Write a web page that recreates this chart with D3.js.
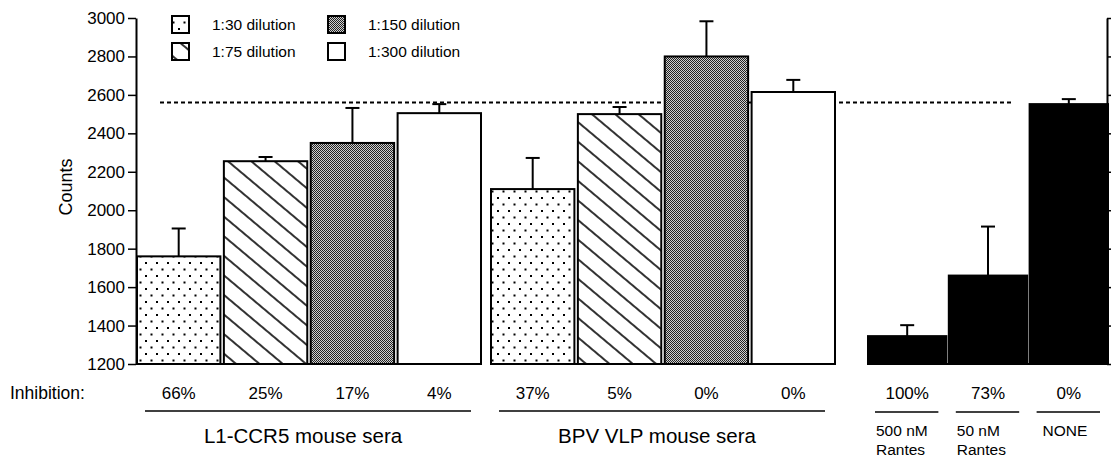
<!DOCTYPE html>
<html>
<head>
<meta charset="utf-8">
<script src="https://cdn.jsdelivr.net/npm/d3@7"></script>
<style>
  body { margin: 0; background: #fff; }
  text { font-family: "Liberation Sans", Arial, sans-serif; fill: #000; }
</style>
</head>
<body>
<script>
var dilutions = ["1:30 dilution", "1:75 dilution", "1:150 dilution", "1:300 dilution"];
var groupNames = ["L1-CCR5 mouse sera", "BPV VLP mouse sera"];

var l1Counts = [1760, 2255, 2350, 2505];
var l1Err = [145, 22, 182, 47];
var l1Inhib = ["66%", "25%", "17%", "4%"];

var bpvCounts = [2110, 2500, 2800, 2615];
var bpvErr = [162, 37, 183, 63];
var bpvInhib = ["37%", "5%", "0%", "0%"];

var rantesNames = [["500 nM", "Rantes"], ["50 nM", "Rantes"], ["NONE"]];
var rantesCounts = [1345, 1660, 2552];
var rantesErr = [57, 255, 26];
var rantesInhib = ["100%", "73%", "0%"];

var baseline = 2560;
var yTicks = [1200, 1400, 1600, 1800, 2000, 2200, 2400, 2600, 2800, 3000];

var width = 1111, height = 457;

var svg = d3.select("body").append("svg")
    .attr("width", width)
    .attr("height", height);

// fill patterns
var defs = svg.append("defs");

var dots = defs.append("pattern").attr("id", "dots")
    .attr("patternUnits", "userSpaceOnUse")
    .attr("width", 11).attr("height", 13);
dots.append("rect").attr("width", 11).attr("height", 13).attr("fill", "#fff");
dots.append("rect").attr("x", 2).attr("y", 2).attr("width", 2).attr("height", 2).attr("fill", "#000");
dots.append("rect").attr("x", 7.5).attr("y", 8.5).attr("width", 2).attr("height", 2).attr("fill", "#000");

var hatch = defs.append("pattern").attr("id", "hatch")
    .attr("patternUnits", "userSpaceOnUse")
    .attr("width", 15).attr("height", 15)
    .attr("patternTransform", "rotate(40)");
hatch.append("rect").attr("width", 15).attr("height", 15).attr("fill", "#fff");
hatch.append("line").attr("x1", 0).attr("x2", 15).attr("y1", 7).attr("y2", 7)
    .attr("stroke", "#000").attr("stroke-width", 1.6);

var grey = defs.append("pattern").attr("id", "grey")
    .attr("patternUnits", "userSpaceOnUse")
    .attr("width", 2).attr("height", 2);
grey.append("rect").attr("width", 2).attr("height", 2).attr("fill", "#cfcfcf");
grey.append("rect").attr("width", 1).attr("height", 1).attr("fill", "#222");
grey.append("rect").attr("x", 1).attr("y", 1).attr("width", 1).attr("height", 1).attr("fill", "#222");

var fills = ["url(#dots)", "url(#hatch)", "url(#grey)", "#fff"];

var y = d3.scaleLinear().domain([1200, 3000]).range([364, 18]);

var x1 = d3.scaleBand().domain(d3.range(4)).range([137, 481]).paddingInner(0.04);
var x2 = d3.scaleBand().domain(d3.range(4)).range([491, 835]).paddingInner(0.04);
var x3 = d3.scaleBand().domain(d3.range(3)).range([868, 1108]).paddingInner(0.03);

// dashed control level
svg.append("line")
    .attr("x1", 160).attr("x2", 1012)
    .attr("y1", y(baseline)).attr("y2", y(baseline))
    .attr("stroke", "#000").attr("stroke-width", 2)
    .attr("stroke-dasharray", "4,3");

function drawGroup(xs, counts, errs, fillFor, inhib) {
    var g = svg.append("g");
    var data = counts.map(function(d, i) { return {i: i, v: d, e: errs[i]}; });

    g.selectAll(".err").data(data).enter().append("line")
        .attr("x1", function(d) { return xs(d.i) + xs.bandwidth() / 2; })
        .attr("x2", function(d) { return xs(d.i) + xs.bandwidth() / 2; })
        .attr("y1", function(d) { return y(d.v); })
        .attr("y2", function(d) { return y(d.v + d.e); })
        .attr("stroke", "#000").attr("stroke-width", 2);
    g.selectAll(".cap").data(data).enter().append("line")
        .attr("x1", function(d) { return xs(d.i) + xs.bandwidth() / 2 - 7; })
        .attr("x2", function(d) { return xs(d.i) + xs.bandwidth() / 2 + 7; })
        .attr("y1", function(d) { return y(d.v + d.e); })
        .attr("y2", function(d) { return y(d.v + d.e); })
        .attr("stroke", "#000").attr("stroke-width", 2);

    g.selectAll("rect").data(data).enter().append("rect")
        .attr("x", function(d) { return xs(d.i); })
        .attr("width", xs.bandwidth())
        .attr("y", function(d) { return y(d.v); })
        .attr("height", function(d) { return y(1200) - y(d.v); })
        .attr("fill", function(d) { return fillFor(d.i); })
        .attr("stroke", "#000").attr("stroke-width", 2);

    // base line of the group
    g.append("line")
        .attr("x1", xs.range()[0]).attr("x2", xs.range()[1])
        .attr("y1", y(1200)).attr("y2", y(1200))
        .attr("stroke", "#000").attr("stroke-width", 2);

    g.selectAll(".inh").data(inhib).enter().append("text")
        .attr("x", function(d, i) { return xs(i) + xs.bandwidth() / 2; })
        .attr("y", 399)
        .attr("text-anchor", "middle")
        .style("font-size", "17px")
        .text(function(d) { return d; });
    return g;
}

drawGroup(x1, l1Counts, l1Err, function(i) { return fills[i]; }, l1Inhib);
drawGroup(x2, bpvCounts, bpvErr, function(i) { return fills[i]; }, bpvInhib);
drawGroup(x3, rantesCounts, rantesErr, function() { return "#000"; }, rantesInhib);

// group underlines and names
[[x1, groupNames[0]], [x2, groupNames[1]]].forEach(function(p) {
    var r = p[0].range();
    svg.append("line")
        .attr("x1", r[0] + 8).attr("x2", r[1] - 10)
        .attr("y1", 411).attr("y2", 411)
        .attr("stroke", "#000").attr("stroke-width", 1.5);
    svg.append("text")
        .attr("x", (r[0] + r[1]) / 2 - 6)
        .attr("y", 443)
        .attr("text-anchor", "middle")
        .style("font-size", "20.5px")
        .text(p[1]);
});

rantesNames.forEach(function(lines, i) {
    var x0 = x3(i);
    svg.append("line")
        .attr("x1", x0 + 7).attr("x2", x0 + x3.bandwidth() - 8)
        .attr("y1", 412).attr("y2", 412)
        .attr("stroke", "#000").attr("stroke-width", 1.5);
    var t = svg.append("text")
        .attr("y", 436)
        .style("font-size", "15.5px");
    lines.forEach(function(s, j) {
        t.append("tspan").attr("x", x0 + (i === 2 ? 13 : 8)).attr("dy", j === 0 ? 0 : 19).text(s);
    });
});

svg.append("text")
    .attr("x", 10).attr("y", 399)
    .style("font-size", "17.5px")
    .text("Inhibition:");

// axes
var axisL = d3.axisLeft(y).tickValues(yTicks).tickFormat(d3.format("d"))
    .tickSize(8).tickSizeOuter(0).tickPadding(3);
var gl = svg.append("g").attr("transform", "translate(136,0)").call(axisL);
gl.selectAll("text").style("font-size", "17px").attr("font-family", null);
gl.select(".domain").attr("stroke-width", 2);
gl.selectAll(".tick line").attr("stroke-width", 1.5);

var axisR = d3.axisRight(y).tickValues(yTicks).tickSize(6).tickSizeOuter(0).tickFormat(function() { return ""; });
var gr = svg.append("g").attr("transform", "translate(1107,0)").call(axisR);
gr.select(".domain").attr("stroke-width", 2);
gr.selectAll(".tick line").attr("stroke-width", 1.5);

svg.append("text")
    .attr("transform", "translate(72,187) rotate(-90)")
    .attr("text-anchor", "middle")
    .style("font-size", "18px")
    .text("Counts");

// legend
var legend = svg.append("g");
var legendPos = [[172, 16], [172, 43], [328, 16], [328, 43]];
dilutions.forEach(function(name, i) {
    legend.append("rect")
        .attr("x", legendPos[i][0]).attr("y", legendPos[i][1])
        .attr("width", 17).attr("height", 17)
        .attr("fill", fills[i])
        .attr("stroke", "#000").attr("stroke-width", 2);
    legend.append("text")
        .attr("x", legendPos[i][0] + 40).attr("y", legendPos[i][1] + 14)
        .style("font-size", "15.5px")
        .text(name);
});
</script>
</body>
</html>
